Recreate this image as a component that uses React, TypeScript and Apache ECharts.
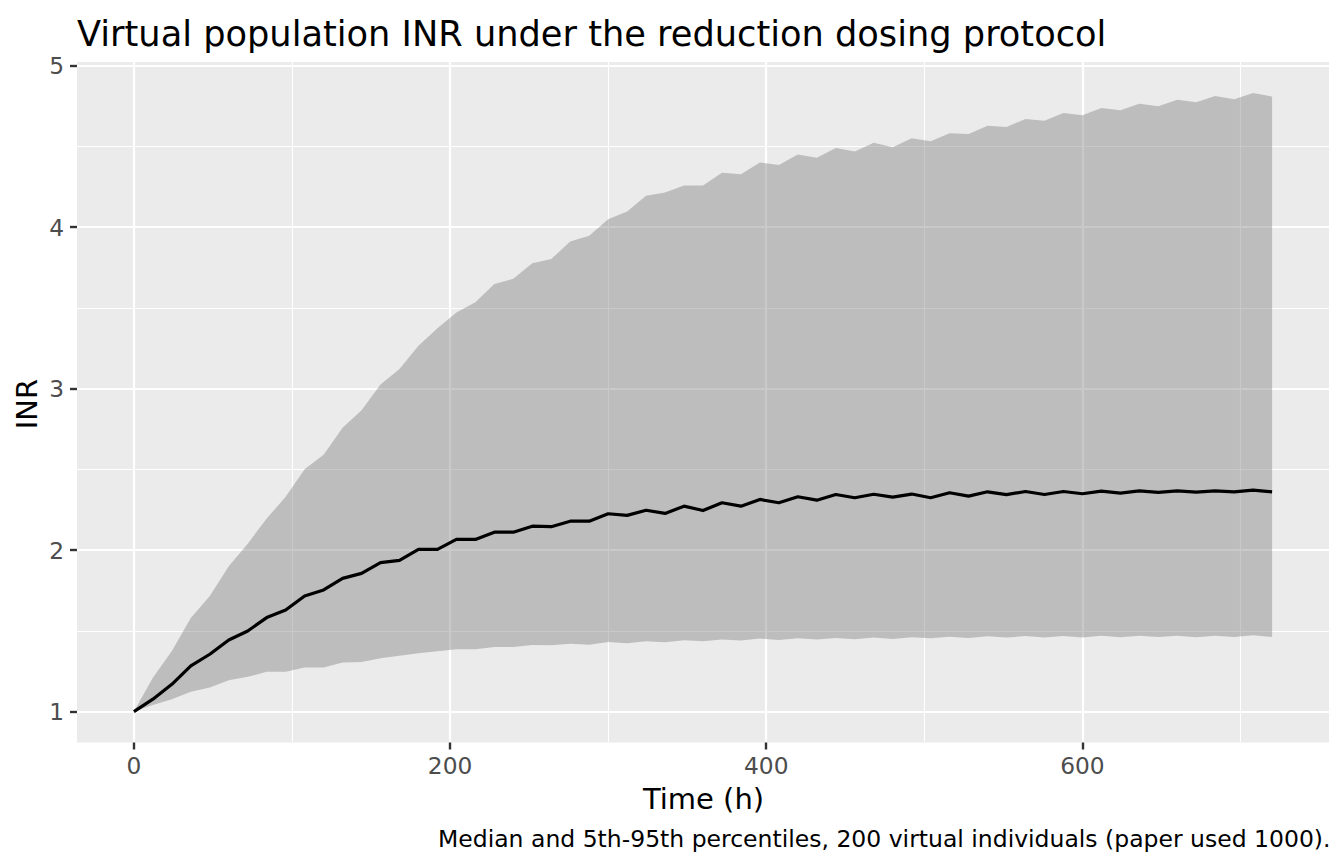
import React, { useEffect, useRef } from "react";
import * as echarts from "echarts";

// ---- data ----
const timeH = [
  0, 12, 24, 36, 48, 60, 72, 84, 96, 108, 120, 132, 144, 156, 168, 180, 192, 204, 216, 228,
  240, 252, 264, 276, 288, 300, 312, 324, 336, 348, 360, 372, 384, 396, 408, 420, 432, 444,
  456, 468, 480, 492, 504, 516, 528, 540, 552, 564, 576, 588, 600, 612, 624, 636, 648, 660,
  672, 684, 696, 708, 720,
];

const p95 = [
  1.0, 1.21, 1.375, 1.58, 1.715, 1.9, 2.04, 2.195, 2.33, 2.5, 2.59, 2.757, 2.866, 3.025, 3.122,
  3.266, 3.373, 3.472, 3.534, 3.647, 3.68, 3.777, 3.802, 3.911, 3.946, 4.049, 4.097, 4.195,
  4.214, 4.257, 4.257, 4.336, 4.328, 4.4, 4.385, 4.449, 4.43, 4.49, 4.468, 4.523, 4.495, 4.55,
  4.532, 4.581, 4.577, 4.628, 4.62, 4.67, 4.659, 4.707, 4.693, 4.738, 4.724, 4.764, 4.748,
  4.789, 4.773, 4.812, 4.792, 4.831, 4.808,
];

const median = [
  1.0, 1.077, 1.169, 1.283, 1.355, 1.443, 1.499, 1.582, 1.629, 1.716, 1.753, 1.825, 1.856,
  1.922, 1.936, 2.004, 2.004, 2.066, 2.066, 2.111, 2.111, 2.148, 2.145, 2.179, 2.179, 2.225,
  2.215, 2.247, 2.227, 2.272, 2.245, 2.293, 2.272, 2.314, 2.293, 2.33, 2.309, 2.344, 2.324,
  2.346, 2.328, 2.347, 2.324, 2.355, 2.334, 2.361, 2.343, 2.363, 2.344, 2.363, 2.349, 2.365,
  2.353, 2.367, 2.357, 2.367, 2.359, 2.367, 2.361, 2.371, 2.361,
];

const p05 = [
  1.0, 1.04, 1.077, 1.122, 1.149, 1.194, 1.215, 1.246, 1.246, 1.273, 1.273, 1.304, 1.307,
  1.33, 1.345, 1.361, 1.374, 1.386, 1.386, 1.4, 1.4, 1.412, 1.411, 1.42, 1.414, 1.431, 1.423,
  1.435, 1.429, 1.442, 1.435, 1.446, 1.44, 1.452, 1.443, 1.454, 1.446, 1.456, 1.448, 1.458,
  1.45, 1.46, 1.454, 1.464, 1.456, 1.466, 1.458, 1.468, 1.458, 1.468, 1.458, 1.47, 1.46, 1.47,
  1.462, 1.47, 1.46, 1.47, 1.462, 1.472, 1.462,
];

const xMajorTicks = [0, 200, 400, 600];
const xMinorTicks = [100, 300, 500, 700];
const yMajorTicks = [1, 2, 3, 4, 5];
const yMinorTicks = [1.5, 2.5, 3.5, 4.5];

const titleText = "Virtual population INR under the reduction dosing protocol";
const xTitle = "Time (h)";
const yTitle = "INR";
const captionText = "Median and 5th-95th percentiles, 200 virtual individuals (paper used 1000).";

const X_MIN = -36;
const X_MAX = 756;
const Y_MIN = 0.8085;
const Y_MAX = 5.0225;

const FONT = "DejaVu Sans";

export default function App() {
  const ref = useRef<HTMLDivElement>(null);

  useEffect(() => {
    if (!ref.current) return;
    const chart = echarts.init(ref.current, undefined, { renderer: "svg" });

    const majorSplit = { show: true, lineStyle: { color: "#FFFFFF", width: 2.2 } };
    const minorSplit = { show: true, lineStyle: { color: "#FFFFFF", width: 1.1 } };

    const option: any = {
      animation: false,
      backgroundColor: "#FFFFFF",
      grid: {
        left: 77,
        right: 15,
        top: 62,
        bottom: 121.5,
        show: true,
        backgroundColor: "#EBEBEB",
        borderWidth: 0,
        containLabel: false,
        outerBoundsMode: "none",
      },
      xAxis: [
        {
          type: "value",
          min: X_MIN,
          max: X_MAX,
          position: "bottom",
          axisLine: { show: false, onZero: false },
          axisTick: {
            show: true,
            length: 7,
            lineStyle: { color: "#333333", width: 2.4 },
            customValues: xMajorTicks,
          },
          axisLabel: {
            show: true,
            customValues: xMajorTicks,
            color: "#4D4D4D",
            fontSize: 23.3,
            fontFamily: FONT,
            margin: 11.5,
          },
          splitLine: majorSplit,
          minorSplitLine: { show: false },
        },
        {
          type: "value",
          min: X_MIN,
          max: X_MAX,
          position: "bottom",
          axisLine: { show: false, onZero: false },
          axisTick: { show: false, customValues: xMinorTicks },
          axisLabel: { show: false, customValues: xMinorTicks },
          splitLine: minorSplit,
        },
      ],
      yAxis: [
        {
          type: "value",
          min: Y_MIN,
          max: Y_MAX,
          position: "left",
          axisLine: { show: false, onZero: false },
          axisTick: {
            show: true,
            length: 7,
            lineStyle: { color: "#333333", width: 2.4 },
            customValues: yMajorTicks,
          },
          axisLabel: {
            show: true,
            customValues: yMajorTicks,
            color: "#4D4D4D",
            fontSize: 23.3,
            fontFamily: FONT,
            margin: 13,
          },
          splitLine: majorSplit,
        },
        {
          type: "value",
          min: Y_MIN,
          max: Y_MAX,
          position: "left",
          axisLine: { show: false, onZero: false },
          axisTick: { show: false, customValues: yMinorTicks },
          axisLabel: { show: false, customValues: yMinorTicks },
          splitLine: minorSplit,
        },
      ],
      series: [
        {
          type: "custom",
          name: "5th-95th percentile",
          xAxisIndex: 0,
          yAxisIndex: 0,
          silent: true,
          z: 2,
          data: [[0, 1]],
          encode: { x: 0, y: 1 },
          renderItem: (_params: any, api: any) => {
            const pts: number[][] = [];
            for (let i = 0; i < timeH.length; i++) pts.push(api.coord([timeH[i], p95[i]]));
            for (let i = timeH.length - 1; i >= 0; i--) pts.push(api.coord([timeH[i], p05[i]]));
            return {
              type: "polygon",
              shape: { points: pts },
              style: { fill: "rgba(125,125,125,0.41)", stroke: "none" },
            };
          },
        },
        {
          type: "line",
          name: "Median",
          xAxisIndex: 0,
          yAxisIndex: 0,
          silent: true,
          z: 3,
          showSymbol: false,
          symbol: "none",
          data: timeH.map((t, i) => [t, median[i]]),
          lineStyle: { color: "#000000", width: 3.2, join: "round" },
        },
      ],
      graphic: [
        {
          type: "text",
          x: 77,
          y: 33.2,
          style: {
            text: titleText,
            fill: "#000000",
            fontSize: 35.2,
            fontFamily: FONT,
            align: "left",
            verticalAlign: "middle",
          },
        },
        {
          type: "text",
          x: 703.5,
          y: 798.7,
          style: {
            text: xTitle,
            fill: "#000000",
            fontSize: 29,
            fontFamily: FONT,
            align: "center",
            verticalAlign: "middle",
          },
        },
        {
          type: "text",
          x: 27.4,
          y: 404,
          rotation: Math.PI / 2,
          style: {
            text: yTitle,
            fill: "#000000",
            fontSize: 29,
            fontFamily: FONT,
            align: "center",
            verticalAlign: "middle",
          },
        },
        {
          type: "text",
          x: 1330.5,
          y: 839.1,
          style: {
            text: captionText,
            fill: "#000000",
            fontSize: 23.5,
            fontFamily: FONT,
            align: "right",
            verticalAlign: "middle",
          },
        },
      ],
    };

    chart.setOption(option);
    return () => {
      chart.dispose();
    };
  }, []);

  return (
    <div
      ref={ref}
      style={{ position: "absolute", left: 0, top: 0, width: 1344, height: 864 }}
    />
  );
}
